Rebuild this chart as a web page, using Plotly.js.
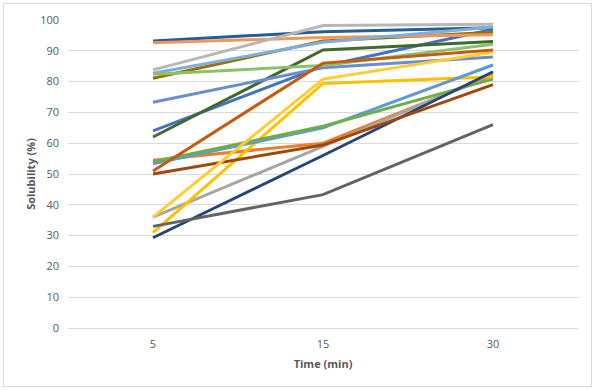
<!DOCTYPE html>
<html>
<head>
<meta charset="utf-8">
<script src="https://cdn.plot.ly/plotly-3.0.1.min.js"></script>
<style>
html,body{margin:0;padding:0;background:#fff;}
#wrap{position:relative;width:596px;height:390px;}
#chart{position:absolute;left:0;top:0;width:596px;height:390px;}
#frame{position:absolute;left:3px;top:3px;width:587px;height:382px;border:1px solid #d9d9d9;pointer-events:none;}
</style>
</head>
<body>
<div id="wrap"><div id="chart"></div><div id="frame"></div></div>
<script>
const times = ["5", "15", "30"];
const s01 = [64, 85, 97];
const s02 = [54.5, 60, 82];
const s03 = [36, 59, 82.5];
const s04 = [31, 79.4, 81.6];
const s05 = [53.3, 65, 85.4];
const s06 = [54, 65.5, 80.8];
const s07 = [29.3, 56, 83.2];
const s08 = [50, 59.4, 79];
const s09 = [33, 43.3, 66];
const s10 = [81.1, 93.2, 96];
const s11 = [93.2, 96.2, 97.5];
const s12 = [62, 90.3, 93];
const s13 = [73.3, 84.5, 88];
const s14 = [92.6, 94.3, 95.2];
const s15 = [83.8, 98.2, 98.6];
const s16 = [36, 80.8, 89.5];
const s17 = [82.7, 92.8, 97.7];
const s18 = [82.4, 85.2, 92.1];
const s19 = [51, 86, 90.3];

const series = [s01,s02,s03,s04,s05,s06,s07,s08,s09,s10,s11,s12,s13,s14,s15,s16,s17,s18,s19];
const colors = ["#4472C4","#ED7D31","#A5A5A5","#FFC000","#5B9BD5","#70AD47",
  "#264478","#9E480E","#636363","#997300","#255E91","#43682B",
  "#698ED0","#F1975A","#B7B7B7","#FFCD33","#7CAFDD","#8CC168","#C55A11"];

const traces = series.map((s,i)=>({
  x: times, y: s, type: "scatter", mode: "lines",
  line: {color: colors[i], width: 3},
  name: "Series " + (i+1), hoverinfo: "y"
}));

const layout = {
  width: 596, height: 390,
  margin: {l: 68, r: 18, t: 20, b: 62},
  paper_bgcolor: "#fff", plot_bgcolor: "#fff",
  showlegend: false,
  font: {family: "Open Sans, Liberation Sans, sans-serif", size: 11, color: "#595959"},
  xaxis: {
    type: "category", range: [-0.5, 2.5],
    showgrid: false, zeroline: false, showline: false,
    ticks: "", ticklabelstandoff: 8, tickfont: {size: 11, color: "#595959"},
    title: {text: "<b>Time (min)</b>", font: {size: 11, color: "#595959"}, standoff: 10}
  },
  yaxis: {
    range: [0, 100], dtick: 10, tick0: 0,
    showgrid: true, gridcolor: "#d9d9d9", gridwidth: 1,
    zeroline: true, zerolinecolor: "#d9d9d9", zerolinewidth: 1,
    showline: false, ticks: "", ticklabelstandoff: 8,
    tickfont: {size: 11, color: "#595959"},
    title: {text: "<b>Solubility (%)</b>", font: {size: 11, color: "#595959"}, standoff: 2}
  }
};

Plotly.newPlot("chart", traces, layout, {displayModeBar: false, staticPlot: true});
</script>
</body>
</html>
